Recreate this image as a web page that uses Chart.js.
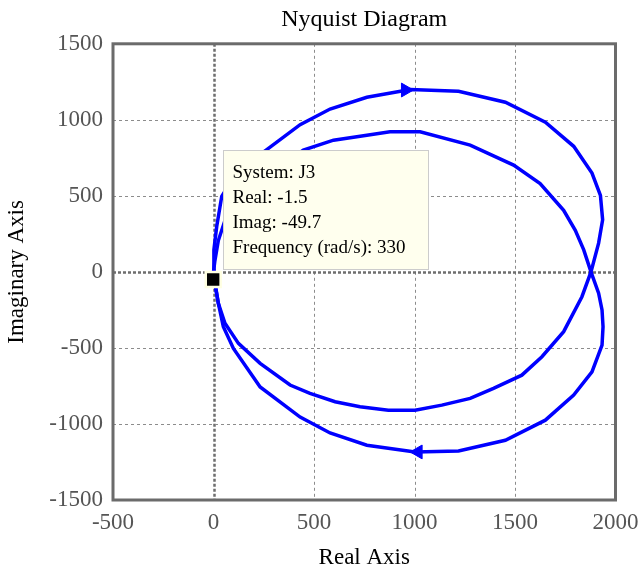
<!DOCTYPE html>
<html>
<head>
<meta charset="utf-8">
<title>Nyquist Diagram</title>
<script src="https://cdn.jsdelivr.net/npm/chart.js@4.4.1/dist/chart.umd.min.js"></script>
<style>
  html, body { margin: 0; padding: 0; background: #fff; }
  canvas { display: block; }
</style>
</head>
<body>
<canvas id="nyquist" width="643" height="576"></canvas>
<script>
// Positive-frequency branch: origin -> outer upper arc -> crossing -> inner lower arc -> origin
const branch1Re = [0, 2, 16, 41, 120, 265, 431, 580, 763, 979, 1219, 1452, 1651, 1792, 1883, 1925, 1936, 1916, 1878,
                   1833, 1742, 1634, 1534, 1393, 1277, 1136, 1003, 870, 729, 605, 480, 381, 232, 124, 57, 24, 7, 0];
const branch1Im = [0, 145, 298, 497, 665, 804, 968, 1071, 1148, 1199, 1188, 1116, 984, 826, 650, 503, 343, 189, 0,
                   -163, -393, -558, -679, -766, -832, -876, -909, -909, -887, -854, -799, -744, -601, -470, -338, -206, -74, 0];

// Negative-frequency branch: origin -> inner upper arc -> crossing -> outer lower arc -> origin
const branch2Re = [0, 7, 24, 57, 124, 232, 447, 597, 763, 878, 1028, 1277, 1493, 1625, 1742, 1800, 1842, 1878,
                   1916, 1933, 1938, 1933, 1883, 1792, 1651, 1452, 1219, 1003, 763, 580, 431, 232, 99, 49, 24, 7, 0];
const branch2Im = [0, 74, 206, 338, 470, 601, 801, 866, 899, 921, 921, 834, 702, 581, 405, 273, 145, 0,
                   -140, -250, -360, -481, -657, -810, -975, -1107, -1177, -1184, -1140, -1059, -955, -757, -503, -360, -206, -74, 0];

// direction arrows on the outer arcs
const arrowRe = [955, 1018];
const arrowIm = [1196, -1184];

// data tip
const tipRe = -1.5;
const tipIm = -49.7;
const tipLines = ['System: J3', 'Real: -1.5', 'Imag: -49.7', 'Frequency (rad/s): 330'];

const xTicks = [-500, 0, 500, 1000, 1500, 2000];
const yTicks = [-1500, -1000, -500, 0, 500, 1000, 1500];

const SERIF = "'Liberation Serif', 'Times New Roman', serif";

function toPoints(re, im) {
    return re.map((v, i) => ({ x: v, y: im[i] }));
}

// dotted grid + thick frame, drawn under the curves
const gridFrame = {
    id: 'gridFrame',
    beforeDatasetsDraw(chart) {
        const { ctx, chartArea: a } = chart;
        const xs = chart.scales.x, ys = chart.scales.y;
        ctx.save();
        xTicks.forEach(v => {
            const zero = v === 0;
            const px = Math.round(xs.getPixelForValue(v)) + 0.5;
            ctx.beginPath();
            ctx.strokeStyle = zero ? '#6e6e6e' : '#8c8c8c';
            ctx.lineWidth = zero ? 2.5 : 1;
            ctx.setLineDash(zero ? [3, 2] : [3, 3]);
            ctx.moveTo(px, a.top);
            ctx.lineTo(px, a.bottom);
            ctx.stroke();
        });
        yTicks.forEach(v => {
            const zero = v === 0;
            const py = Math.round(ys.getPixelForValue(v)) + 0.5;
            ctx.beginPath();
            ctx.strokeStyle = zero ? '#6e6e6e' : '#8c8c8c';
            ctx.lineWidth = zero ? 2.5 : 1;
            ctx.setLineDash(zero ? [3, 2] : [3, 3]);
            ctx.moveTo(a.left, py);
            ctx.lineTo(a.right, py);
            ctx.stroke();
        });
        ctx.setLineDash([]);
        ctx.strokeStyle = '#6b6b6b';
        ctx.lineWidth = 3;
        ctx.strokeRect(a.left, a.top, a.right - a.left, a.bottom - a.top);
        ctx.restore();
    },
    // data tip box goes over the curves but under the marker
    afterDatasetDraw(chart, args) {
        if (args.index !== 2) return;
        const { ctx } = chart;
        const px = chart.scales.x.getPixelForValue(tipRe);
        const py = chart.scales.y.getPixelForValue(tipIm);
        const left = Math.round(px + 9.5) + 0.5;
        const top = Math.round(py - 129) + 0.5;
        ctx.save();
        ctx.fillStyle = '#ffffee';
        ctx.strokeStyle = '#cccccc';
        ctx.lineWidth = 1;
        ctx.fillRect(left, top, 205, 119);
        ctx.strokeRect(left, top, 205, 119);
        ctx.fillStyle = '#000';
        ctx.font = '19px ' + SERIF;
        ctx.textBaseline = 'alphabetic';
        tipLines.forEach((t, i) => {
            ctx.fillText(t, left + 9, top + 27.5 + i * 25);
        });
        ctx.restore();
    }
};

new Chart(document.getElementById('nyquist'), {
    type: 'scatter',
    data: {
        datasets: [
            {
                data: [{ x: tipRe, y: tipIm }],
                pointStyle: 'rect',
                pointRadius: 10.5,
                backgroundColor: '#000',
                borderColor: '#ffffe1',
                borderWidth: 2.5
            },
            {
                data: toPoints(arrowRe, arrowIm),
                pointStyle: 'triangle',
                pointRadius: 8,
                rotation: ctx => ctx.dataIndex === 0 ? 90 : 270,
                backgroundColor: '#0000ff',
                borderColor: '#0000ff',
                borderWidth: 1
            },
            {
                data: toPoints(branch1Re, branch1Im),
                showLine: true,
                pointRadius: 0,
                borderColor: '#0000ff',
                borderWidth: 3.5,
                tension: 0
            },
            {
                data: toPoints(branch2Re, branch2Im),
                showLine: true,
                pointRadius: 0,
                borderColor: '#0000ff',
                borderWidth: 3.5,
                tension: 0
            }
        ]
    },
    options: {
        responsive: false,
        animation: false,
        devicePixelRatio: 1,
        layout: { padding: { left: 0, right: 27.5, top: 0, bottom: 0 } },
        plugins: {
            legend: { display: false },
            tooltip: { enabled: false },
            title: {
                display: true,
                fullSize: false,
                text: 'Nyquist Diagram',
                color: '#000',
                font: { family: SERIF, size: 24, weight: 'normal' },
                padding: { top: 5, bottom: 10 }
            }
        },
        scales: {
            x: {
                type: 'linear',
                min: -500,
                max: 2000,
                afterBuildTicks: s => { s.ticks = xTicks.map(v => ({ value: v })); },
                afterFit: s => { s.height = 76; s.paddingLeft = 0; s.paddingRight = 0; },
                grid: { display: false, drawTicks: false },
                border: { display: false },
                ticks: {
                    color: '#555',
                    padding: 9,
                    maxRotation: 0,
                    font: { family: SERIF, size: 23 },
                    callback: v => String(v)
                },
                title: {
                    display: true,
                    text: 'Real Axis',
                    color: '#000',
                    font: { family: SERIF, size: 23 },
                    padding: { top: 0, bottom: 4 }
                }
            },
            y: {
                type: 'linear',
                min: -1500,
                max: 1500,
                afterBuildTicks: s => { s.ticks = yTicks.map(v => ({ value: v })); },
                afterFit: s => { s.width = 113; },
                grid: { display: false, drawTicks: false },
                border: { display: false },
                ticks: {
                    color: '#555',
                    padding: 10,
                    font: { family: SERIF, size: 23 },
                    callback: v => String(v)
                },
                title: {
                    display: true,
                    text: 'Imaginary Axis',
                    color: '#000',
                    font: { family: SERIF, size: 23 },
                    padding: { top: 3, bottom: 0 }
                }
            }
        }
    },
    plugins: [gridFrame]
});
</script>
</body>
</html>
